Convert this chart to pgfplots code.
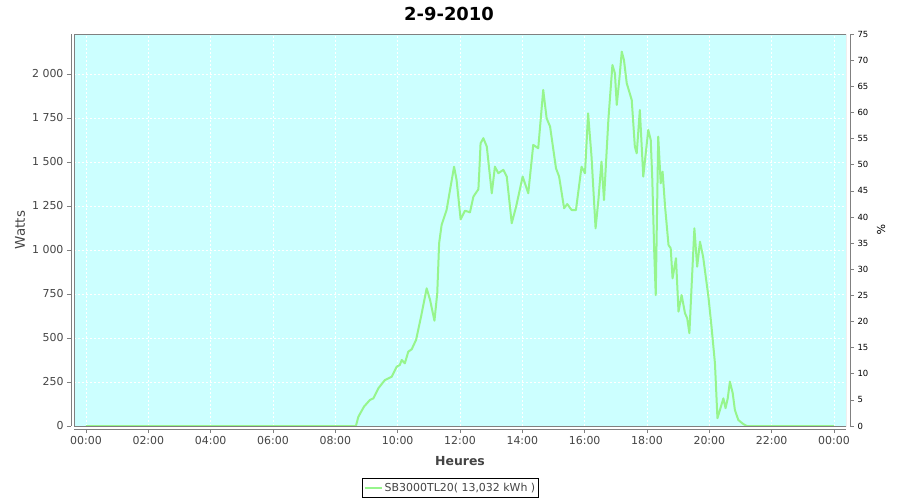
\documentclass[border=0pt]{standalone}
\usepackage{fontspec}
\setmainfont{DejaVu Sans}
\usepackage{pgfplots}
\pgfplotsset{compat=1.18}
\definecolor{bgc}{RGB}{204,255,255}
\definecolor{linec}{RGB}{150,245,140}
\definecolor{axc}{RGB}{128,128,128}
\definecolor{txc}{RGB}{68,68,68}
\pgfplotstableread{
h w
0 0
8.60 0
8.66 0
8.74 53
8.92 110
9.11 148
9.22 157
9.38 214
9.59 261
9.81 280
9.97 337
10.07 347
10.13 375
10.23 356
10.34 422
10.45 436
10.59 489
10.75 621
10.93 782
11.04 716
11.18 598
11.27 754
11.33 1038
11.41 1142
11.57 1227
11.68 1341
11.81 1473
11.89 1398
12.02 1174
12.16 1223
12.32 1214
12.43 1303
12.59 1345
12.62 1450
12.66 1606
12.75 1635
12.86 1587
13.02 1322
13.12 1473
13.23 1436
13.39 1455
13.50 1417
13.66 1152
13.80 1246
14.01 1417
14.19 1322
14.35 1597
14.51 1578
14.67 1909
14.78 1748
14.89 1701
15.08 1464
15.18 1417
15.34 1237
15.44 1261
15.58 1227
15.72 1227
15.90 1473
16.01 1436
16.11 1776
16.22 1530
16.35 1123
16.44 1284
16.54 1502
16.62 1284
16.76 1739
16.89 2051
16.97 2004
17.03 1824
17.11 1966
17.19 2127
17.26 2080
17.35 1947
17.51 1852
17.61 1587
17.67 1549
17.77 1795
17.88 1417
18.04 1682
18.12 1625
18.17 1400
18.23 1000
18.28 744
18.36 1644
18.44 1379
18.50 1445
18.58 1246
18.69 1028
18.76 1010
18.82 839
18.93 953
19.01 650
19.11 744
19.22 640
19.29 612
19.36 527
19.43 791
19.52 1123
19.61 905
19.70 1047
19.80 962
19.97 735
20.07 564
20.18 356
20.26 44
20.34 91
20.45 157
20.52 101
20.59 157
20.66 252
20.75 186
20.82 91
20.93 34
21.09 11
21.20 0
24 0
}\datatable
\begin{document}
\begin{tikzpicture}
\useasboundingbox (-74bp,-74bp) rectangle (826bp,426bp);
\begin{axis}[
  at={(0,0)}, anchor=south west,
  scale only axis, width=772bp, height=392bp,
  xmin=-0.385, xmax=24.385, ymin=0, ymax=2227,
  axis background/.style={fill=bgc},
  axis x line*=bottom, axis y line*=left,
  axis x line shift=3bp, axis y line shift=3bp,
  axis line style={axc, line width=0.8bp, -},
  tick align=outside, major tick length=4bp,
  every tick/.style={axc, line width=0.6bp},
  xtick={0,2,...,24},
  xticklabels={00:00,02:00,04:00,06:00,08:00,10:00,12:00,14:00,16:00,18:00,20:00,22:00,00:00},
  ytick={0,250,500,750,1000,1250,1500,1750,2000},
  yticklabels={0,250,500,750,1 000,1 250,1 500,1 750,2 000},
  ticklabel style={font=\fontsize{11}{13}\selectfont, text=txc},
  grid=major,
  major grid style={white, dash pattern=on 2bp off 2bp, line width=0.5bp},
  xlabel={Heures},
  xlabel style={at={(axis description cs:0.5,-0.0893)}, anchor=center, font=\bfseries\fontsize{12.5}{14}\selectfont, text=txc},
  ylabel={Watts},
  ylabel style={at={(axis description cs:-0.0699,0.5)}, anchor=center, rotate=0, font=\fontsize{13.5}{15}\selectfont, text=txc},
  title={2-9-2010},
  title style={at={(axis description cs:0.4858,1.051)}, anchor=center, yshift=-6pt, font=\bfseries\fontsize{18}{20}\selectfont},
  legend style={at={(axis description cs:0.4877,-0.1327)}, anchor=north, draw=black, line width=0.8bp, font=\fontsize{11}{13}\selectfont, text=txc, inner xsep=1.5bp, inner ysep=2.5bp, row sep=0pt},
  legend cell align=left,
  legend image code/.code={\draw[linec, line width=2bp] (0bp,0bp) -- (17bp,0bp);},
]
\addplot[linec, line width=2bp, line join=round] table[x=h, y=w] {\datatable};
\addlegendentry{SB3000TL20( 13,032 kWh )}
\draw[axc, line width=0.6bp] (rel axis cs:0,0) rectangle (rel axis cs:1,1);
\end{axis}
\begin{axis}[
  at={(0,0)}, anchor=south west,
  scale only axis, width=772bp, height=392bp,
  xmin=-0.385, xmax=24.385, ymin=0, ymax=75,
  axis x line=none, axis y line*=right,
  axis y line shift=4bp,
  axis line style={axc, line width=0.8bp, -},
  tick align=outside, major tick length=4bp,
  every tick/.style={axc, line width=0.6bp},
  ytick={0,5,...,75},
  /pgf/number format/assume math mode=true,
  yticklabel style={font=\fontsize{8.5}{10}\selectfont, text=black},
  ylabel={\%},
  ylabel style={at={(axis description cs:1.0453,0.5)}, anchor=center, rotate=180, font=\fontsize{11}{13}\selectfont},
]
\end{axis}
\end{tikzpicture}
\end{document}
